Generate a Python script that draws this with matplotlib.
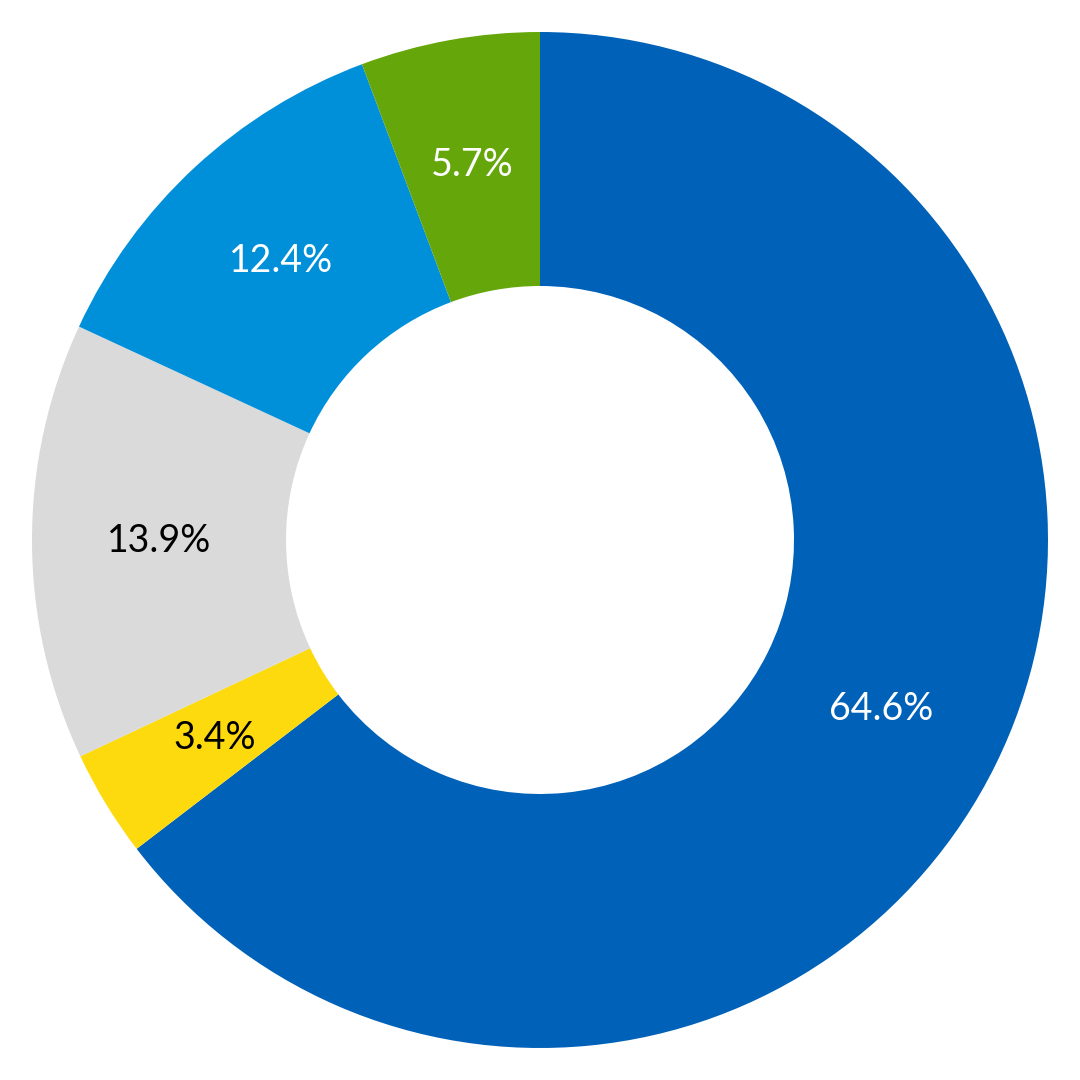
import matplotlib.pyplot as plt

# Slice data, clockwise from the top
labels = ['A', 'B', 'C', 'D', 'E']
shares = [64.6, 3.4, 13.9, 12.4, 5.7]
colors = ['#0061b8', '#fdda0d', '#dadada', '#0090da', '#65a70a']
text_colors = ['white', 'black', 'black', 'white', 'white']

fig = plt.figure(figsize=(10.8, 10.8), dpi=100)
ax = fig.add_axes([0, 0, 1, 1])

wedges, texts, autotexts = ax.pie(
    shares, colors=colors, startangle=90, counterclock=False,
    radius=1.0, autopct='%1.1f%%', pctdistance=0.75,
    wedgeprops=dict(width=0.5, linewidth=0),
)
for t, c in zip(autotexts, text_colors):
    t.set_color(c)
    t.set_fontsize(27)
    t.set_family(['Lato', 'DejaVu Sans'])

ax.set_xlim(-1.063, 1.063)
ax.set_ylim(-1.063, 1.063)
ax.set_aspect('equal')
ax.axis('off')

fig.savefig('out.png', dpi=100)
